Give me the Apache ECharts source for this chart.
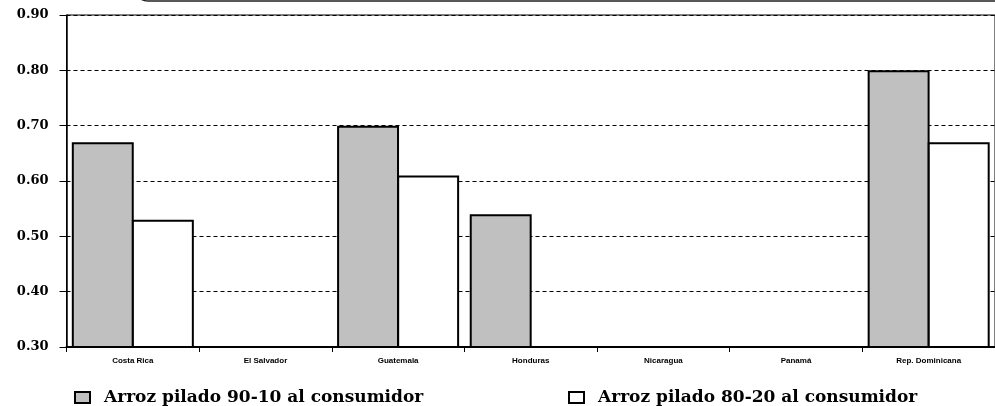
<!DOCTYPE html>
<html>
<head>
<meta charset="utf-8">
<script src="https://cdn.jsdelivr.net/npm/echarts@6/dist/echarts.min.js"></script>
<style>
html,body{margin:0;padding:0;background:#fff;}
#c{width:995px;height:406px;}
</style>
</head>
<body>
<div id="c"></div>
<script>
var categories = ['Costa Rica', 'El Salvador', 'Guatemala', 'Honduras', 'Nicaragua', 'Panamá', 'Rep. Dominicana'];
var seriesNames = ['Arroz pilado 90-10 al consumidor', 'Arroz pilado 80-20 al consumidor'];
var values9010 = [0.67, null, 0.70, 0.54, null, null, 0.80];
var values8020 = [0.53, null, 0.61, null, null, null, 0.67];
var yTicks = [0.30, 0.40, 0.50, 0.60, 0.70, 0.80, 0.90];

var chart = echarts.init(document.getElementById('c'), null, {renderer: 'canvas'});
var legendText = {fontFamily: 'DejaVu Serif', fontWeight: 'bold', fontSize: 17, color: '#000', padding: [0, 0, 0, 9]};
chart.setOption({
  backgroundColor: '#fff',
  animation: false,
  graphic: [{
    type: 'rect', silent: true,
    shape: {x: 134, y: -40, width: 1000, height: 41, r: 14},
    style: {fill: 'none', stroke: '#222', lineWidth: 1.5}
  }],
  grid: {left: 66.5, right: -6.5, top: 15, bottom: 59, show: true, borderColor: '#000', borderWidth: 1, backgroundColor: 'transparent'},
  legend: [{
    data: [seriesNames[0]], left: 69, top: 384, itemWidth: 15, itemHeight: 11, icon: 'rect',
    textStyle: legendText, selectedMode: false
  }, {
    data: [seriesNames[1]], left: 563, top: 384, itemWidth: 15, itemHeight: 11, icon: 'rect',
    textStyle: legendText, selectedMode: false
  }],
  xAxis: {
    type: 'category', data: categories, boundaryGap: true,
    axisLine: {lineStyle: {color: '#000', width: 2}},
    axisTick: {show: true, length: 5, lineStyle: {color: '#000', width: 1}},
    axisLabel: {fontFamily: '"Liberation Sans Narrow", "Arial Narrow", "Liberation Sans", sans-serif', fontWeight: 'bold', fontSize: 8, color: '#000', margin: 10, interval: 0}
  },
  yAxis: {
    type: 'value', min: yTicks[0], max: yTicks[yTicks.length - 1], interval: 0.1,
    axisLine: {show: true, lineStyle: {color: '#000', width: 1.5}},
    axisTick: {show: true, length: 7, lineStyle: {color: '#000', width: 1}},
    axisLabel: {fontFamily: 'DejaVu Serif', fontWeight: 'bold', fontSize: 13, color: '#000', margin: 18,
      formatter: function (v) { return v.toFixed(2); }},
    splitLine: {show: true, lineStyle: {color: '#000', type: [4, 3], width: 1.2}}
  },
  series: [{
    name: seriesNames[0], type: 'bar', data: values9010,
    barGap: '-3%', barCategoryGap: '8%',
    itemStyle: {color: '#C0C0C0', borderColor: '#000', borderWidth: 2}
  }, {
    name: seriesNames[1], type: 'bar', data: values8020,
    itemStyle: {color: '#FFFFFF', borderColor: '#000', borderWidth: 2}
  }]
});
</script>
</body>
</html>
